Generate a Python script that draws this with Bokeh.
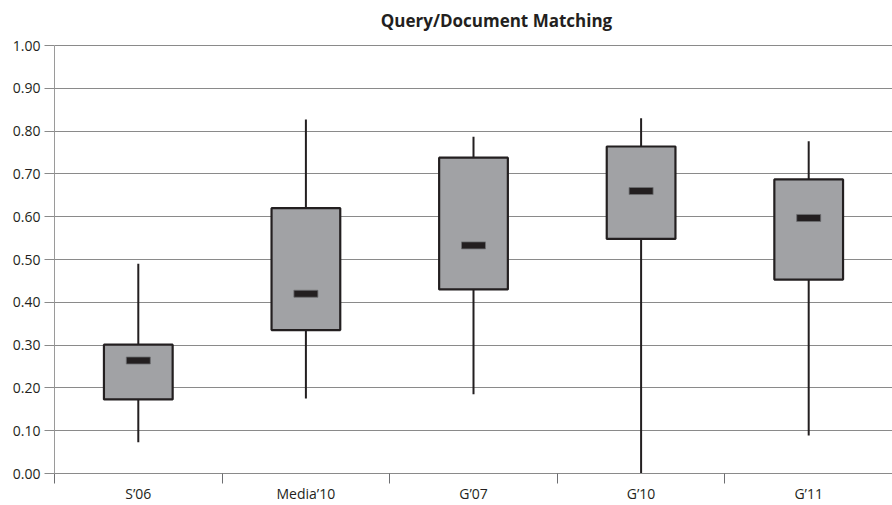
from bokeh.plotting import figure
from bokeh.models import FixedTicker, ColumnDataSource, Range1d, NumeralTickFormatter, Label
from bokeh.embed import file_html
from bokeh.resources import INLINE

categories = ["S\u201906", "Media\u201910", "G\u201907", "G\u201910", "G\u201911"]
whisker_low = [0.073, 0.175, 0.185, 0.0, 0.089]
q1 = [0.173, 0.335, 0.430, 0.548, 0.453]
median = [0.264, 0.420, 0.533, 0.660, 0.597]
q3 = [0.301, 0.620, 0.738, 0.764, 0.687]
whisker_high = [0.490, 0.827, 0.787, 0.830, 0.776]
title_text = "Query/Document Matching"

xs = [i + 0.5 for i in range(len(categories))]
src = ColumnDataSource(dict(x=xs, lo=whisker_low, q1=q1, med=median, q3=q3, hi=whisker_high))

FONT = "Open Sans"
TXT = "#231f20"

# frame covers the title area; the value axis itself is bounded to 0..1
p = figure(width=892, height=505, output_backend="svg", toolbar_location=None,
           x_range=Range1d(0, 5), y_range=Range1d(0, 473 / 428),
           min_border_left=54, min_border_right=0, min_border_top=0, min_border_bottom=32)
p.outline_line_color = None
p.background_fill_color = "white"
p.border_fill_color = "white"

title = Label(x=442, y=453, x_units="screen", y_units="screen", text=title_text,
              text_align="center", text_baseline="middle", text_font=FONT,
              text_font_size="17px", text_font_style="bold", text_color=TXT)
p.add_layout(title)

# whiskers
p.segment(x0="x", y0="lo", x1="x", y1="hi", source=src, line_color=TXT, line_width=2)
# boxes
p.vbar(x="x", width=0.41, bottom="q1", top="q3", source=src,
       fill_color="#a1a2a5", line_color=TXT, line_width=2.2)
# medians
p.rect(x="x", y="med", width=24, height=7, width_units="screen", height_units="screen",
       source=src, fill_color=TXT, line_color="#6d6e71", line_width=0.8)

# y axis
p.yaxis.ticker = FixedTicker(ticks=[i / 10 for i in range(11)])
p.yaxis.bounds = (0, 1)
p.yaxis.formatter = NumeralTickFormatter(format="0.00")
p.yaxis.axis_line_color = "#9a9a9a"
p.yaxis.major_tick_line_color = "#8a8a8a"
p.yaxis.major_tick_out = 10
p.yaxis.major_tick_in = 0
p.yaxis.minor_tick_line_color = None
p.yaxis.major_label_text_font = FONT
p.yaxis.major_label_text_font_size = "14px"
p.yaxis.major_label_text_color = TXT
p.yaxis.major_label_standoff = 4

# x axis
p.xaxis.ticker = FixedTicker(ticks=xs, minor_ticks=[0, 1, 2, 3, 4, 5])
p.xaxis.major_label_overrides = {x: c for x, c in zip(xs, categories)}
p.xaxis.major_tick_line_color = None
p.xaxis.minor_tick_line_color = "#6d6e71"
p.xaxis.minor_tick_out = 10
p.xaxis.minor_tick_in = 0
p.xaxis.axis_line_color = "#8a8a8a"
p.xaxis.major_label_text_font = FONT
p.xaxis.major_label_text_font_size = "14px"
p.xaxis.major_label_text_color = TXT
p.xaxis.major_label_standoff = 0

p.xgrid.grid_line_color = None
p.ygrid.grid_line_color = "#8a8a8a"
p.ygrid.grid_line_width = 1

open("out.html", "w").write(file_html(p, INLINE))
